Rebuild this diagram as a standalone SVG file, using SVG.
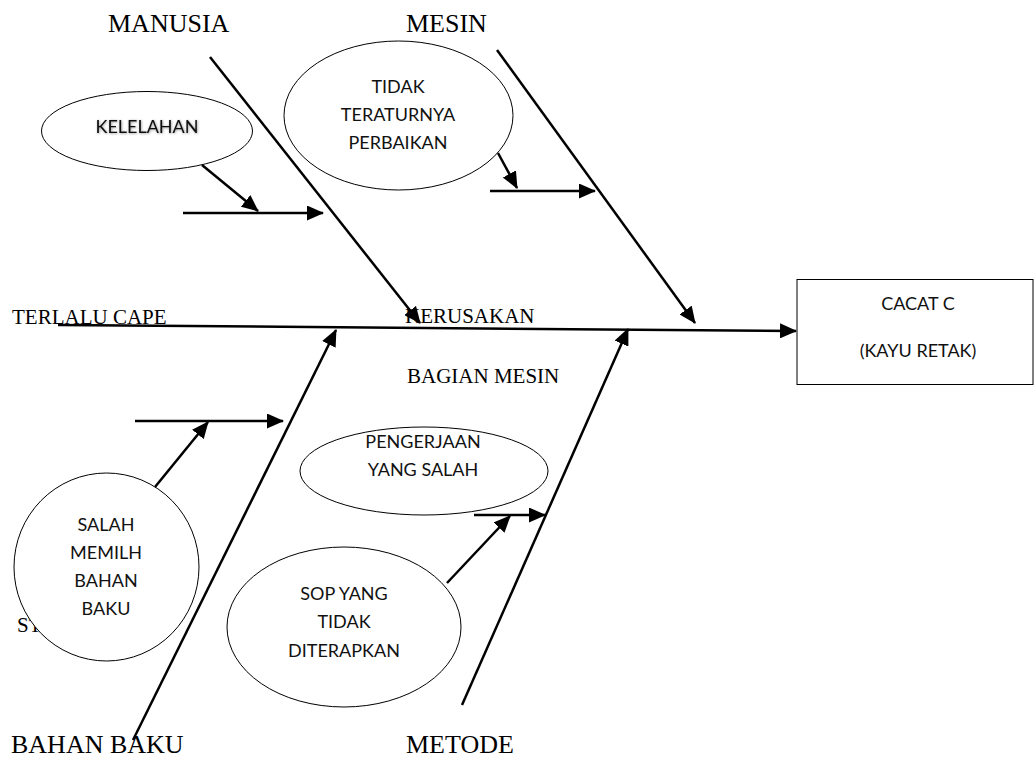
<svg xmlns="http://www.w3.org/2000/svg" width="1036" height="769" viewBox="0 0 1036 769">
<style>
.ar{stroke:#000;stroke-width:2.5;fill:none;marker-end:url(#ah)}
.el{fill:#fff;stroke:#000;stroke-width:1}
.tm{font-family:"Liberation Serif","Times New Roman",serif;fill:#000}
.cb{font-family:Lato,"Liberation Sans",sans-serif;font-size:18px;fill:#111;text-anchor:middle}
</style>
<defs>
<marker id="ah" markerUnits="userSpaceOnUse" markerWidth="17" markerHeight="15" refX="16" refY="7.5" orient="auto">
<path d="M0,0 L17,7.5 L0,15 z" fill="#000"/>
</marker>
<filter id="glow" x="-10%" y="-30%" width="120%" height="160%">
<feDropShadow dx="0.6" dy="0.6" stdDeviation="1" flood-color="#000" flood-opacity="0.45"/>
</filter>
</defs>
<rect width="1036" height="769" fill="#fff"/>
<g id="labels">
<text class="tm" x="108" y="32" font-size="26">MANUSIA</text>
<text class="tm" x="406" y="32" font-size="26">MESIN</text>
<text class="tm" x="11" y="753" font-size="26">BAHAN BAKU</text>
<text class="tm" x="406" y="753" font-size="26">METODE</text>
<text class="tm" x="12" y="324" font-size="21">TERLALU CAPE</text>
<text class="tm" x="405" y="323" font-size="21">KERUSAKAN</text>
<text class="tm" x="407" y="383" font-size="21">BAGIAN MESIN</text>
<text class="tm" x="17" y="632" font-size="21">ST</text>
</g>
<g id="connectors">
<line class="ar" x1="58" y1="325" x2="796" y2="331"/>
<line class="ar" x1="210" y1="57" x2="420" y2="323"/>
<line class="ar" x1="497" y1="50" x2="695" y2="323"/>
<line class="ar" x1="133" y1="740" x2="336" y2="330"/>
<line class="ar" x1="462" y1="705" x2="628" y2="329"/>
<line class="ar" x1="183" y1="213" x2="323" y2="213"/>
<line class="ar" x1="202" y1="165" x2="258" y2="211"/>
<line class="ar" x1="490" y1="191" x2="595" y2="191"/>
<line class="ar" x1="498" y1="153" x2="517" y2="188"/>
<line class="ar" x1="135" y1="421" x2="283" y2="421"/>
<line class="ar" x1="155" y1="487" x2="208" y2="422"/>
<line class="ar" x1="474" y1="515" x2="545" y2="515"/>
<line class="ar" x1="447" y1="583" x2="510" y2="516"/>
</g>
<g id="kelelahan">
<ellipse class="el" cx="147" cy="131" rx="105.5" ry="39.5"/>
<text class="cb" x="147" y="133" filter="url(#glow)">KELELAHAN</text>
</g>
<g id="tidak-teraturnya">
<ellipse class="el" cx="398.5" cy="115.5" rx="114.5" ry="74.5"/>
<text class="cb" x="398" y="93">TIDAK</text>
<text class="cb" x="398" y="121">TERATURNYA</text>
<text class="cb" x="398" y="149">PERBAIKAN</text>
</g>
<g id="salah-memilih">
<ellipse class="el" cx="106.5" cy="567" rx="92.5" ry="94"/>
<text class="cb" x="106" y="531">SALAH</text>
<text class="cb" x="106" y="559">MEMILH</text>
<text class="cb" x="106" y="587">BAHAN</text>
<text class="cb" x="106" y="615">BAKU</text>
</g>
<g id="pengerjaan">
<ellipse class="el" cx="424" cy="471" rx="124" ry="44"/>
<text class="cb" x="423" y="448">PENGERJAAN</text>
<text class="cb" x="423" y="476">YANG SALAH</text>
</g>
<g id="sop">
<ellipse class="el" cx="344" cy="627" rx="117" ry="80"/>
<text class="cb" x="344" y="600">SOP YANG</text>
<text class="cb" x="344" y="628">TIDAK</text>
<text class="cb" x="344" y="657">DITERAPKAN</text>
</g>
<g id="cacat">
<rect x="797" y="279.5" width="236" height="105" fill="#fff" stroke="#000" stroke-width="1"/>
<text class="cb" x="918" y="310">CACAT C</text>
<text class="cb" x="918" y="357">(KAYU RETAK)</text>
</g>
</svg>
